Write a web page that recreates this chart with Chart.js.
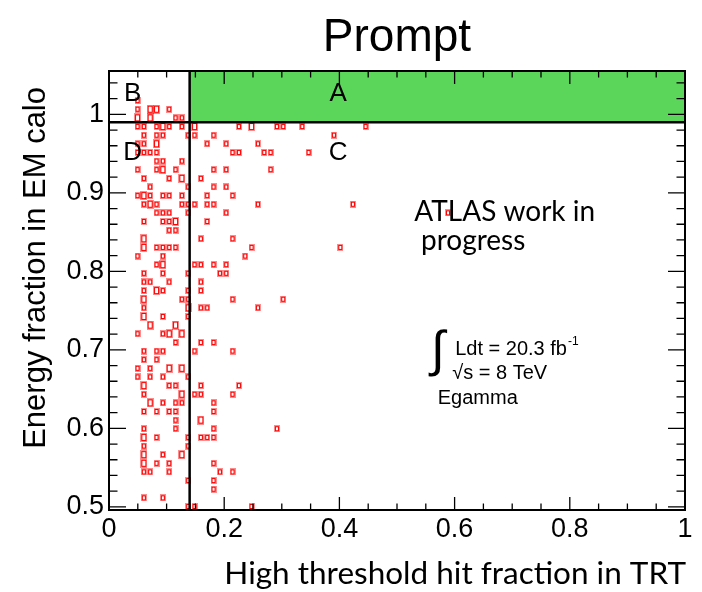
<!DOCTYPE html>
<html>
<head>
<meta charset="utf-8">
<title>Prompt</title>
<script src="https://cdn.jsdelivr.net/npm/chart.js@4/dist/chart.umd.min.js"></script>
<style>
  html, body { margin: 0; padding: 0; background: #ffffff; }
  #c { display: block; }
</style>
</head>
<body>
<canvas id="c" width="702" height="592"></canvas>
<script>
// Axis ranges and labelled ticks
const xRange = [0, 1];
const yRange = [0.496, 1.0552];
const xTicks = [0, 0.2, 0.4, 0.6, 0.8, 1];
const yTicks = [0.5, 0.6, 0.7, 0.8, 0.9, 1];

// Selection cuts: TRT high-threshold fraction and EM energy fraction
const htCut = 0.14;
const emCut = 0.99;

// EM-fraction bin centres (bin width 0.011), one entry per filled row
const emFraction = [
  1.0175, 1.0065, 0.9955, 0.9845, 0.9735, 0.9625, 0.9515, 0.9405,
  0.9295, 0.9185, 0.9075, 0.8965, 0.8855, 0.8745, 0.8635, 0.8525,
  0.8415, 0.8305, 0.8195, 0.8085, 0.7975, 0.7865, 0.7755, 0.7645,
  0.7535, 0.7425, 0.7315, 0.7205, 0.7095, 0.6985, 0.6875, 0.6765,
  0.6655, 0.6545, 0.6435, 0.6325, 0.6215, 0.6105, 0.5995, 0.5885,
  0.5775, 0.5665, 0.5555, 0.5445, 0.5335, 0.5225, 0.5115, 0.5005
];

// High-threshold-fraction bin centres filled in each row
const htFraction = [
  [0.0495],
  [0.0495, 0.0715, 0.0825, 0.1045],
  [0.0495, 0.0715, 0.1155, 0.1265],
  [0.0495, 0.0605, 0.0825, 0.0935, 0.1045, 0.1265, 0.1485, 0.2255, 0.2475, 0.2915, 0.3025, 0.3355, 0.4455],
  [0.0605, 0.0825, 0.0935, 0.1375, 0.1485, 0.1815, 0.3905],
  [0.0495, 0.0605, 0.0825, 0.1705, 0.2035, 0.2585],
  [0.0495, 0.0605, 0.0715, 0.0825, 0.2145, 0.2255, 0.2695, 0.2805, 0.3465],
  [0.0825, 0.0935, 0.1265],
  [0.0495, 0.0825, 0.0935, 0.1155, 0.1815, 0.2035, 0.2805],
  [0.0605, 0.1045, 0.1265, 0.1595],
  [0.0715, 0.1375, 0.1815, 0.2035],
  [0.0495, 0.0605, 0.0715, 0.0935, 0.1045, 0.1265, 0.1705, 0.2145],
  [0.0605, 0.0715, 0.0825, 0.1265, 0.1375, 0.1485, 0.1705, 0.1815, 0.2585, 0.4235],
  [0.0825, 0.0935, 0.1045, 0.1375, 0.2035, 0.5885],
  [0.0605, 0.0935, 0.1045, 0.1155, 0.1705],
  [0.1045, 0.1155],
  [0.0605, 0.1595, 0.2145],
  [0.0605, 0.0825, 0.0935, 0.1045, 0.1155, 0.2475, 0.4015],
  [0.0495, 0.0935, 0.2365],
  [0.0825, 0.0935, 0.1485, 0.1595, 0.1815, 0.2035],
  [0.0605, 0.0935, 0.1375, 0.1925, 0.2035],
  [0.0605, 0.0715, 0.1045, 0.1595],
  [0.0605, 0.0825, 0.0935, 0.1375, 0.1595],
  [0.0605, 0.1265, 0.1375, 0.2145, 0.3025],
  [0.0605, 0.1375, 0.1595, 0.1705, 0.2585],
  [0.0605, 0.0935, 0.1375],
  [0.0715, 0.1155],
  [0.0495, 0.0935, 0.1045, 0.1265],
  [0.1155, 0.1595, 0.1815],
  [0.0605, 0.0825, 0.0935, 0.1485, 0.2145],
  [0.0605, 0.0825],
  [0.0495, 0.0715, 0.1045, 0.1265],
  [0.0495, 0.0715, 0.0935, 0.1375],
  [0.0605, 0.1045, 0.1155, 0.1595, 0.2255],
  [0.0605, 0.1265, 0.1485, 0.1595, 0.2145],
  [0.0715, 0.0935, 0.1155, 0.1265, 0.1815],
  [0.0605, 0.0825, 0.1045, 0.1155, 0.1815],
  [0.1155, 0.1595],
  [0.0605, 0.1155, 0.1815, 0.2915],
  [0.0605, 0.0825, 0.1375, 0.1595, 0.1705, 0.1815],
  [0.0605, 0.1375],
  [0.0605, 0.0935, 0.1265],
  [0.0605, 0.0825, 0.1045, 0.1815],
  [0.0605, 0.0715, 0.1045, 0.1925, 0.2145],
  [0.1375, 0.1815],
  [0.1815],
  [0.0605, 0.0935],
  [0.1375, 0.1485, 0.2475]
];

// Entries in each filled bin (same layout as htFraction)
const entries = [
  [1],
  [1, 2, 2, 1],
  [2, 2, 1, 1],
  [1, 1, 1, 2, 1, 1, 2, 1, 2, 1, 1, 1, 1],
  [1, 1, 1, 1, 1, 1, 1],
  [1, 1, 2, 1, 1, 1],
  [1, 1, 1, 1, 1, 1, 1, 1, 1],
  [1, 1, 1],
  [1, 1, 2, 1, 1, 1, 1],
  [1, 1, 2, 1],
  [1, 1, 1, 1],
  [1, 2, 1, 1, 1, 1, 1, 1],
  [1, 2, 1, 1, 1, 1, 1, 1, 1, 1],
  [1, 1, 1, 1, 1, 1],
  [1, 1, 1, 2, 1],
  [1, 1],
  [2, 1, 1],
  [2, 1, 1, 1, 1, 1, 1],
  [1, 1, 1],
  [1, 2, 1, 1, 1, 1],
  [1, 1, 1, 1, 1],
  [1, 1, 1, 1],
  [1, 2, 1, 1, 1],
  [2, 1, 1, 1, 1],
  [1, 2, 1, 1, 1],
  [2, 1, 1],
  [2, 2],
  [1, 1, 2, 2],
  [1, 1, 1],
  [1, 1, 1, 1, 1],
  [1, 1],
  [1, 1, 2, 2],
  [1, 1, 1, 1],
  [2, 1, 1, 1, 1],
  [1, 2, 1, 1, 1],
  [2, 1, 1, 1, 1],
  [1, 1, 1, 1, 1],
  [1, 2],
  [1, 1, 1, 1],
  [2, 1, 1, 1, 1, 1],
  [1, 1],
  [2, 1, 2],
  [2, 1, 1, 1],
  [1, 1, 1, 1, 1],
  [1, 1],
  [1],
  [1, 1],
  [1, 1, 1]
];

// Flatten the 2D histogram into scatter points
const cells = [];
emFraction.forEach((em, i) => {
  htFraction[i].forEach((ht, j) => cells.push({ x: ht, y: em, n: entries[i][j] }));
});

// Box marker: red rectangle outline with a soft rim, larger for higher bin content
function boxMarker(w, h) {
  const c = document.createElement('canvas');
  c.width = w + 2; c.height = h + 2;
  const g = c.getContext('2d');
  g.fillStyle = 'rgba(255, 0, 0, 0.45)';
  g.fillRect(0, 0, w + 2, h + 2);
  g.clearRect(1, 1, w, h);
  g.fillStyle = '#ff0000';
  g.fillRect(1, 1, w, h);
  g.clearRect(2, 2, w - 2, h - 2);
  return c;
}
const boxSingle = boxMarker(4, 5);
const boxDouble = boxMarker(5, 7);

// Text annotations placed in axis coordinates
const regionLabels = [
  { text: 'A', x: 0.398, y: 1.026 },
  { text: 'B', x: 0.041, y: 1.026 },
  { text: 'C', x: 0.398, y: 0.951 },
  { text: 'D', x: 0.041, y: 0.951 }
];

const xMajorStep = 0.2, xMinorStep = 0.05;
const yMajorStep = 0.1, yMinorStep = 0.02;

// Frame with inward ticks on all four sides, plus titles and annotations
const rootPad = {
  id: 'rootPad',
  afterDatasetsDraw(chart) {
    const { ctx, chartArea: a, scales: { x, y } } = chart;
    ctx.save();
    ctx.strokeStyle = '#000';
    ctx.lineWidth = 1.3;
    ctx.beginPath();
    const isMajor = (v, step) => Math.abs(v / step - Math.round(v / step)) < 1e-6;
    for (let i = 0; ; i++) {
      const v = xRange[0] + i * xMinorStep;
      if (v > xRange[1] + 1e-9) break;
      const len = isMajor(v, xMajorStep) ? 13 : 6.5;
      const px = x.getPixelForValue(v);
      ctx.moveTo(px, a.bottom); ctx.lineTo(px, a.bottom - len);
      ctx.moveTo(px, a.top); ctx.lineTo(px, a.top + len);
    }
    const y0 = Math.ceil(yRange[0] / yMinorStep - 1e-9) * yMinorStep;
    for (let i = 0; ; i++) {
      const v = y0 + i * yMinorStep;
      if (v > yRange[1] + 1e-9) break;
      const len = isMajor(v, yMajorStep) ? 17 : 8.5;
      const py = y.getPixelForValue(v);
      ctx.moveTo(a.left, py); ctx.lineTo(a.left + len, py);
      ctx.moveTo(a.right, py); ctx.lineTo(a.right - len, py);
    }
    ctx.stroke();
    ctx.lineWidth = 2;
    ctx.strokeRect(a.left, a.top, a.right - a.left, a.bottom - a.top);

    ctx.fillStyle = '#000';
    // Region labels
    ctx.font = '26px "Liberation Sans", Arial, sans-serif';
    ctx.textAlign = 'center';
    ctx.textBaseline = 'middle';
    regionLabels.forEach(l => ctx.fillText(l.text, x.getPixelForValue(l.x), y.getPixelForValue(l.y)));

    // Preliminary label
    ctx.textAlign = 'left';
    ctx.textBaseline = 'alphabetic';
    ctx.font = '28px Lato, "Open Sans", sans-serif';
    ctx.fillText('ATLAS work in', x.getPixelForValue(0.530), y.getPixelForValue(0.864));
    ctx.fillText('progress', x.getPixelForValue(0.5417), y.getPixelForValue(0.827));

    // Luminosity block
    ctx.font = '50px "Liberation Sans", Arial, sans-serif';
    ctx.fillText('\u222B', x.getPixelForValue(0.559), y.getPixelForValue(0.680));
    ctx.font = '20px "Liberation Sans", Arial, sans-serif';
    const lx = x.getPixelForValue(0.601), ly = y.getPixelForValue(0.6934);
    const lumi = 'Ldt = 20.3 fb';
    ctx.fillText(lumi, lx, ly);
    const lw = ctx.measureText(lumi).width;
    ctx.font = '12px "Liberation Sans", Arial, sans-serif';
    ctx.fillText('-1', lx + lw + 1, ly - 10);
    ctx.font = '20px "Liberation Sans", Arial, sans-serif';
    ctx.fillText('\u221As = 8 TeV', x.getPixelForValue(0.596), y.getPixelForValue(0.6628));
    ctx.fillText('Egamma', x.getPixelForValue(0.5708), y.getPixelForValue(0.631));

    // Pad title
    ctx.textAlign = 'center';
    ctx.font = '46px "Liberation Sans", Arial, sans-serif';
    ctx.fillText('Prompt', (a.left + a.right) / 2, 51);

    // Axis titles
    ctx.textAlign = 'right';
    ctx.font = '31.5px Lato, "Open Sans", sans-serif';
    ctx.fillText('High threshold hit fraction in TRT', a.right + 1, 584);
    ctx.save();
    ctx.translate(45, 87);
    ctx.rotate(-Math.PI / 2);
    ctx.font = '31px "Liberation Sans", Arial, sans-serif';
    ctx.textAlign = 'right';
    ctx.fillText('Energy fraction in EM calo', 0, 0);
    ctx.restore();
    ctx.restore();
  }
};

const tickFont = { family: '"Liberation Sans", Arial, sans-serif', size: 27 };
const fmt = v => String(Number(Number(v).toFixed(1)));

new Chart(document.getElementById('c'), {
  type: 'scatter',
  data: {
    datasets: [
      {
        // cut lines
        type: 'line',
        data: [{ x: xRange[0], y: emCut }, { x: xRange[1], y: emCut }],
        showLine: true, borderColor: '#000', borderWidth: 2.5, pointRadius: 0, order: 0
      },
      {
        type: 'line',
        data: [{ x: htCut, y: yRange[0] }, { x: htCut, y: yRange[1] }],
        showLine: true, borderColor: '#000', borderWidth: 2.5, pointRadius: 0, order: 0
      },
      {
        // candidates
        type: 'scatter',
        data: cells,
        pointStyle: ctx => (ctx.raw && ctx.raw.n > 1 ? boxDouble : boxSingle),
        pointRadius: 3,
        order: 1
      },
      {
        // region A: above both cuts
        type: 'line',
        data: [{ x: htCut, y: yRange[1] }, { x: xRange[1], y: yRange[1] }],
        showLine: true, borderColor: 'rgba(0,0,0,0)', borderWidth: 0, pointRadius: 0,
        fill: { value: emCut }, backgroundColor: '#5bd65b', order: 2
      }
    ]
  },
  options: {
    responsive: false,
    animation: false,
    events: [],
    layout: { padding: { top: 71, right: 17, bottom: 0, left: 0 } },
    plugins: { legend: { display: false }, tooltip: { enabled: false }, title: { display: false } },
    scales: {
      x: {
        type: 'linear', min: xRange[0], max: xRange[1],
        grid: { display: false, drawTicks: false }, border: { display: false },
        afterBuildTicks: s => { s.ticks = xTicks.map(v => ({ value: v })); },
        afterFit: s => { s.height = 82; },
        ticks: { font: tickFont, color: '#000', padding: 3, maxRotation: 0, autoSkip: false, callback: fmt }
      },
      y: {
        type: 'linear', min: yRange[0], max: yRange[1],
        grid: { display: false, drawTicks: false }, border: { display: false },
        afterBuildTicks: s => { s.ticks = yTicks.map(v => ({ value: v })); },
        afterFit: s => { s.width = 109; },
        ticks: { font: tickFont, color: '#000', padding: 5, autoSkip: false, callback: fmt }
      }
    }
  },
  plugins: [rootPad]
});
</script>
</body>
</html>
